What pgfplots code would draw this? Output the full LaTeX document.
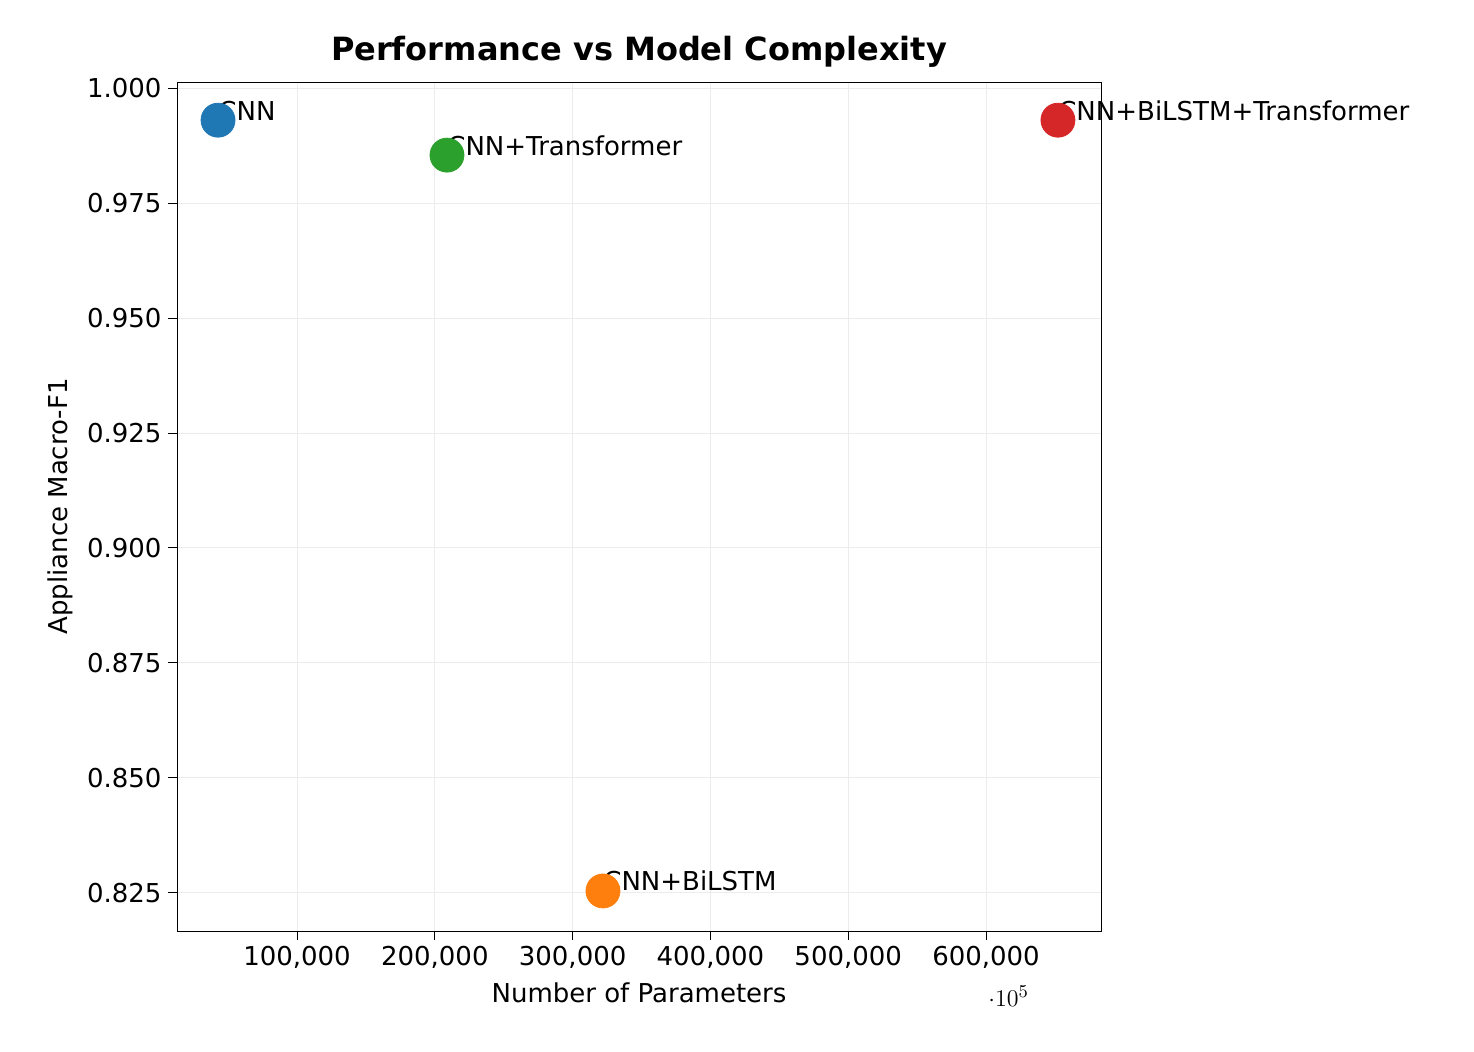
\documentclass[border=0pt]{standalone}
\usepackage{pgfplots}
\pgfplotsset{compat=1.18}
\usepackage{fontspec}
\setmainfont{DejaVu Sans}
\begin{document}
\begin{tikzpicture}
\begin{axis}[
  scale only axis, width=462pt, height=424.5pt,
  xmin=12900, xmax=683450, ymin=0.8167, ymax=1.0013,
  clip=false,
  xtick={100000,200000,300000,400000,500000,600000},
  xticklabels={100{,}000,200{,}000,300{,}000,400{,}000,500{,}000,600{,}000},
  ytick={0.825,0.85,0.875,0.9,0.925,0.95,0.975,1.0},
  yticklabels={0.825,0.850,0.875,0.900,0.925,0.950,0.975,1.000},
  tick label style={font=\fontsize{13}{15}\selectfont},
  label style={font=\fontsize{13}{15}\selectfont},
  tick align=outside, tick style={black, thin},
  xtick pos=bottom, ytick pos=left,
  grid=major, grid style={gray!15},
  xlabel={Number of Parameters}, ylabel={Appliance Macro-F1},
  title={\bfseries Performance vs Model Complexity},
  title style={font=\fontsize{16}{18}\selectfont\bfseries, yshift=-2pt},
]
\addplot[only marks, mark=*, mark size=8.5pt, color={rgb,255:red,31;green,119;blue,180}] coordinates {(42650,0.9930)};
\addplot[only marks, mark=*, mark size=8.5pt, color={rgb,255:red,255;green,127;blue,14}] coordinates {(322000,0.8254)};
\addplot[only marks, mark=*, mark size=8.5pt, color={rgb,255:red,44;green,160;blue,44}] coordinates {(208800,0.9854)};
\addplot[only marks, mark=*, mark size=8.5pt, color={rgb,255:red,214;green,39;blue,40}] coordinates {(652200,0.9930)};
\node[anchor=base west, inner sep=0pt, font=\fontsize{13}{15}\selectfont] at (axis cs:42650,0.9930) {CNN};
\node[anchor=base west, inner sep=0pt, font=\fontsize{13}{15}\selectfont] at (axis cs:208800,0.9854) {CNN+Transformer};
\node[anchor=base west, inner sep=0pt, font=\fontsize{13}{15}\selectfont] at (axis cs:322000,0.8254) {CNN+BiLSTM};
\node[anchor=base west, inner sep=0pt, font=\fontsize{13}{15}\selectfont] at (axis cs:652200,0.9930) {CNN+BiLSTM+Transformer};
\path (rel axis cs:-0.1916,-0.1425) rectangle (rel axis cs:1.4037,1.0966);
\end{axis}
\end{tikzpicture}
\end{document}
